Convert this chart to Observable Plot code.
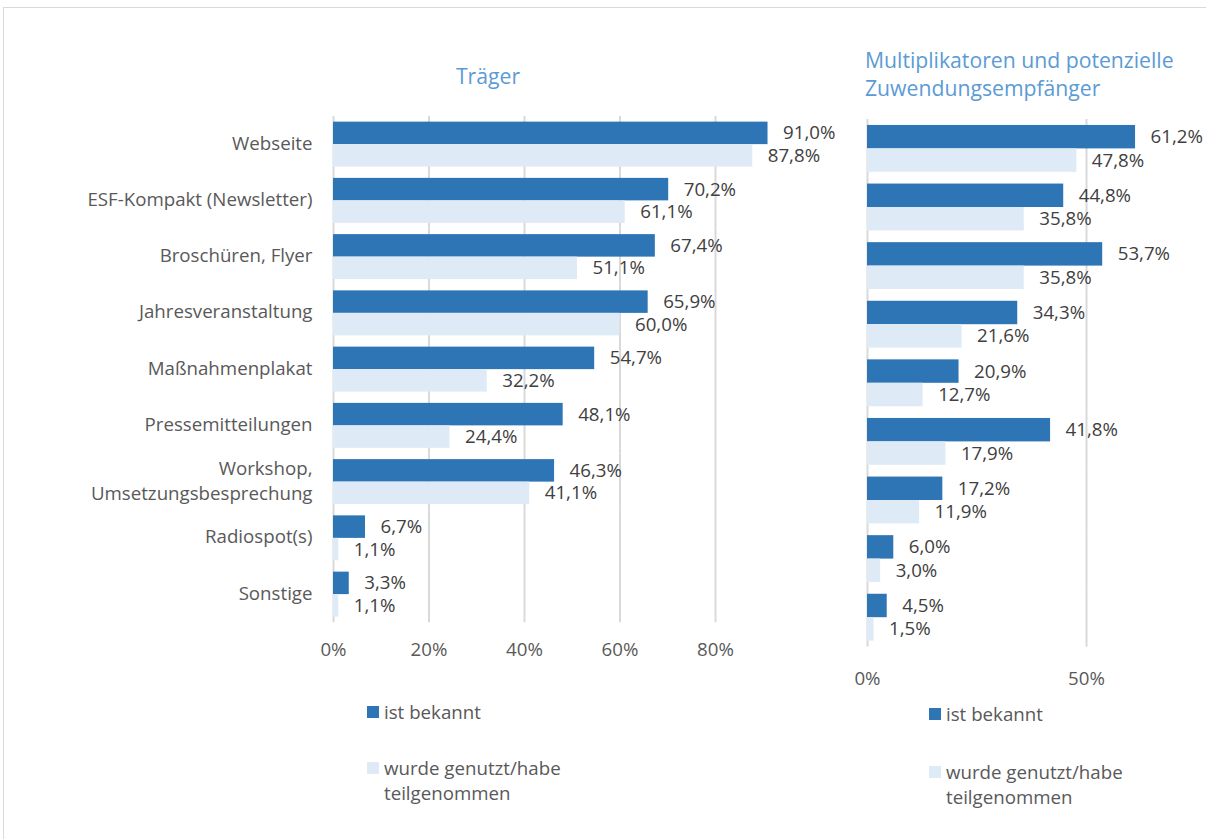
<!DOCTYPE html>
<html><head><meta charset="utf-8">
<script src="https://cdn.jsdelivr.net/npm/d3@7"></script>
<script src="https://cdn.jsdelivr.net/npm/@observablehq/plot@0.6"></script>
<style>
body{margin:0;background:#fff;font-family:"Open Sans",sans-serif;}
#wrap{position:relative;width:1206px;height:839px;overflow:hidden;background:#fff;}
.frame{position:absolute;left:3px;top:7px;width:1220px;height:860px;border:1px solid #d9d9d9;box-sizing:border-box;}
.panel{position:absolute;top:0;}
.title{position:absolute;color:#5b9bd5;font-size:21.2px;line-height:28px;white-space:nowrap;}
.leg{position:absolute;font-size:18.7px;line-height:25px;color:#595959;white-space:nowrap;}
.sw{position:absolute;width:12px;height:12px;}
</style>
</head><body>
<div id="wrap">
  <div class="frame"></div>
  <div id="left" class="panel" style="left:0px"></div>
  <div id="right" class="panel" style="left:840px"></div>
  <div class="title" style="left:388px;top:62px;width:200px;text-align:center">Träger</div>
  <div class="title" style="left:865px;top:46px">Multiplikatoren und potenzielle<br>Zuwendungsempfänger</div>
  <div id="legends"></div>
</div>
<script>
const categories = ["Webseite","ESF-Kompakt (Newsletter)","Broschüren, Flyer","Jahresveranstaltung","Maßnahmenplakat","Pressemitteilungen","Workshop,\nUmsetzungsbesprechung","Radiospot(s)","Sonstige"];
const series = ["ist bekannt", "wurde genutzt/habe teilgenommen"];
const legendLabels = ["ist bekannt", "wurde genutzt/habe<br>teilgenommen"];
const traegerBekannt = [91.0,70.2,67.4,65.9,54.7,48.1,46.3,6.7,3.3];
const traegerGenutzt = [87.8,61.1,51.1,60.0,32.2,24.4,41.1,1.1,1.1];
const multiBekannt = [61.2,44.8,53.7,34.3,20.9,41.8,17.2,6.0,4.5];
const multiGenutzt = [47.8,35.8,35.8,21.6,12.7,17.9,11.9,3.0,1.5];
const ticksLeft = [0,20,40,60,80];
const ticksRight = [0,50];
const colors = ["#2e75b6","#deebf7"];

const fmt = v => v.toFixed(1).replace(".", ",") + "%";
const pct = v => v + "%";
function rows(a, b) {
  return categories.flatMap((c, i) => [
    {cat: c, series: series[0], value: a[i]},
    {cat: c, series: series[1], value: b[i]}
  ]);
}

function panel(o) {
  return Plot.plot({
    width: o.width, height: o.height,
    marginLeft: o.marginLeft, marginRight: o.marginRight,
    marginTop: o.marginTop, marginBottom: o.marginBottom,
    style: {fontFamily: "Open Sans", fontSize: "18.7px", background: "transparent", overflow: "visible"},
    x: {domain: o.domain},
    y: {domain: series, padding: 0, round: false, axis: null},
    fy: {domain: categories, paddingInner: 0.2, paddingOuter: 0.1, round: false, axis: o.showCats ? undefined : null},
    color: {domain: series, range: colors},
    marks: [
      Plot.ruleX(o.ticks, {stroke: "#d9d9d9", strokeWidth: 2, insetTop: -o.inset, insetBottom: -o.inset}),
      Plot.barX(o.data, {x: "value", y: "series", fy: "cat", fill: "series"}),
      Plot.text(o.data, {x: "value", y: "series", fy: "cat", text: d => fmt(d.value), textAnchor: "start", dx: 15, fill: "#404040", fontSize: 18.7}),
      Plot.axisX({ticks: o.ticks, tickFormat: pct, tickSize: 0, tickPadding: o.tickPadding, label: null, fill: "#595959", fontSize: 18.7}),
      o.showCats ? Plot.axisFy({anchor: "left", tickSize: 0, tickPadding: 21, dy: -3, label: null, fill: "#595959", fontSize: 18.7, lineHeight: 1.34}) : null
    ]
  });
}

document.getElementById("left").appendChild(panel({
  data: rows(traegerBekannt, traegerGenutzt), ticks: ticksLeft, domain: [0, 100],
  width: 840, height: 700, marginLeft: 333, marginRight: 29.5, marginTop: 116, marginBottom: 77.75,
  showCats: true, inset: 5.6, tickPadding: 26
}));
document.getElementById("right").appendChild(panel({
  data: rows(multiBekannt, multiGenutzt), ticks: ticksRight, domain: [0, 70],
  width: 366, height: 720, marginLeft: 27, marginRight: 32.4, marginTop: 119.1, marginBottom: 73.5,
  showCats: false, inset: 5.9, tickPadding: 31
}));

// legends
const legendPos = [
  {sx: 367, tx: 384, sy: [705.5, 761.5], ty: [698.5, 754.5]},
  {sx: 929, tx: 946, sy: [708, 766], ty: [700.5, 758.5]}
];
const lg = document.getElementById("legends");
legendPos.forEach(p => {
  series.forEach((s, i) => {
    const sw = document.createElement("div");
    sw.className = "sw";
    sw.style.left = p.sx + "px"; sw.style.top = p.sy[i] + "px"; sw.style.background = colors[i];
    lg.appendChild(sw);
    const t = document.createElement("div");
    t.className = "leg";
    t.style.left = p.tx + "px"; t.style.top = p.ty[i] + "px";
    t.innerHTML = legendLabels[i];
    lg.appendChild(t);
  });
});
</script>
</body></html>
